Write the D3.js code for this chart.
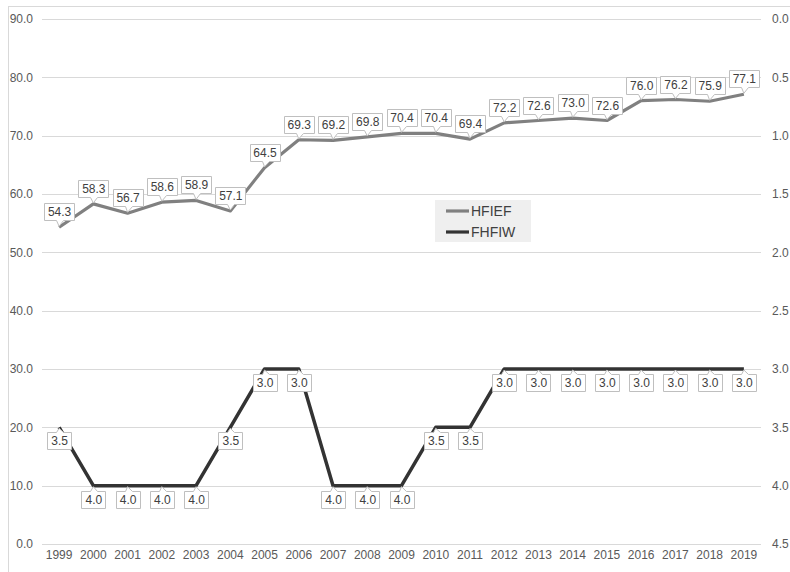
<!DOCTYPE html>
<html>
<head>
<meta charset="utf-8">
<script src="https://cdn.jsdelivr.net/npm/d3@7"></script>
<style>
  html, body { margin: 0; padding: 0; background: #fff; }
  svg { display: block; font-family: "Liberation Sans", Arial, sans-serif; }
</style>
</head>
<body>
<svg id="chart" width="790" height="572"></svg>
<script>
// Years on the category axis
const years = ["1999","2000","2001","2002","2003","2004","2005","2006","2007","2008","2009","2010","2011","2012","2013","2014","2015","2016","2017","2018","2019"];
// HFIEF index (left axis)
const hfief = [54.3, 58.3, 56.7, 58.6, 58.9, 57.1, 64.5, 69.3, 69.2, 69.8, 70.4, 70.4, 69.4, 72.2, 72.6, 73.0, 72.6, 76.0, 76.2, 75.9, 77.1];
// FHFIW score (right axis, reversed)
const fhfiw = [3.5, 4.0, 4.0, 4.0, 4.0, 3.5, 3.0, 3.0, 4.0, 4.0, 4.0, 3.5, 3.5, 3.0, 3.0, 3.0, 3.0, 3.0, 3.0, 3.0, 3.0];
// Axis ticks
const leftTicks = [0, 10, 20, 30, 40, 50, 60, 70, 80, 90];
const rightTicks = [0, 0.5, 1.0, 1.5, 2.0, 2.5, 3.0, 3.5, 4.0, 4.5];

const svg = d3.select("#chart");
const plot = { left: 42, right: 761, top: 19, bottom: 544 };

// Outer chart frame
svg.append("rect")
  .attr("x", 8.5).attr("y", 6.5).attr("width", 820).attr("height", 620)
  .attr("fill", "#fff").attr("stroke", "#d9d9d9").attr("stroke-width", 1);

const x = d3.scaleBand().domain(years).range([plot.left, plot.right]);
const yL = d3.scaleLinear().domain([0, 90]).range([plot.bottom, plot.top]);
const yR = d3.scaleLinear().domain([0, 4.5]).range([plot.top, plot.bottom]);
const cx = d => x(d) + x.bandwidth() / 2;

// Gridlines
svg.append("g").selectAll("line").data(leftTicks).join("line")
  .attr("x1", plot.left).attr("x2", plot.right)
  .attr("y1", d => Math.round(yL(d)) + 0.5).attr("y2", d => Math.round(yL(d)) + 0.5)
  .attr("stroke", "#d9d9d9").attr("stroke-width", 1);

// Left axis
const leftAxis = svg.append("g")
  .attr("transform", `translate(${plot.left},0)`)
  .call(d3.axisLeft(yL).tickValues(leftTicks).tickFormat(d3.format(".1f")).tickSize(0).tickPadding(9));
// Right axis
const rightAxis = svg.append("g")
  .attr("transform", `translate(${plot.right},0)`)
  .call(d3.axisRight(yR).tickValues(rightTicks).tickFormat(d3.format(".1f")).tickSize(0).tickPadding(11));
// Bottom axis
const bottomAxis = svg.append("g")
  .attr("transform", `translate(0,${plot.bottom})`)
  .call(d3.axisBottom(x).tickSize(0).tickPadding(6));

[leftAxis, rightAxis, bottomAxis].forEach(g => {
  g.select(".domain").remove();
  g.selectAll("text").attr("fill", "#595959").attr("font-size", 12)
    .attr("font-family", "'Liberation Sans', Arial, sans-serif");
});

// Lines
const lineL = d3.line().x((d, i) => cx(years[i])).y(d => yL(d));
const lineR = d3.line().x((d, i) => cx(years[i])).y(d => yR(d));

svg.append("path").datum(hfief).attr("d", lineL)
  .attr("fill", "none").attr("stroke", "#808080").attr("stroke-width", 3.2)
  .attr("stroke-linejoin", "round");
svg.append("path").datum(fhfiw).attr("d", lineR)
  .attr("fill", "none").attr("stroke", "#333333").attr("stroke-width", 3.5)
  .attr("stroke-linejoin", "round");

// Callout data labels
function callout(g, px, py, text, above) {
  const h = 17, gap = above ? 7 : 5;
  const t = g.append("text").text(text)
    .attr("font-size", 12).attr("fill", "#404040")
    .attr("text-anchor", "middle");
  const tw = t.node().getComputedTextLength();
  const w = Math.round(tw + 7);
  const bx = Math.round(px - w / 2) + 0.5;
  let by, d;
  const ta = Math.round(px) - 2.5, tb = Math.round(px) + 4.5;
  if (above) {
    by = Math.round(py - gap - h) + 0.5;
    const bb = by + h;
    d = `M${bx},${by}H${bx + w}V${bb}H${tb}L${px},${py - 1}L${ta},${bb}H${bx}Z`;
  } else {
    by = Math.round(py + gap) + 0.5;
    d = `M${bx},${by}H${ta}L${px},${py + 1}L${tb},${by}H${bx + w}V${by + h}H${bx}Z`;
  }
  g.insert("path", "text").attr("d", d)
    .attr("fill", "#fff").attr("stroke", "#bfbfbf").attr("stroke-width", 1);
  t.attr("x", px + 0.5).attr("y", by + h / 2 + 4.3);
}

const labelsL = svg.append("g");
hfief.forEach((v, i) => {
  const g = labelsL.append("g");
  callout(g, cx(years[i]), yL(v), d3.format(".1f")(v), true);
});
const labelsR = svg.append("g");
fhfiw.forEach((v, i) => {
  const g = labelsR.append("g");
  callout(g, cx(years[i]), yR(v), d3.format(".1f")(v), false);
});

// Legend
const legend = svg.append("g");
legend.append("rect").attr("x", 435).attr("y", 200).attr("width", 96).attr("height", 42)
  .attr("fill", "#efefef");
const entries = [["HFIEF", "#808080"], ["FHFIW", "#333333"]];
entries.forEach(([name, color], i) => {
  const yy = 211 + i * 21;
  legend.append("line").attr("x1", 446).attr("x2", 469).attr("y1", yy).attr("y2", yy)
    .attr("stroke", color).attr("stroke-width", 3.2);
  legend.append("text").attr("x", 471).attr("y", yy + 5).text(name)
    .attr("font-size", 14).attr("fill", "#404040");
});
</script>
</body>
</html>
